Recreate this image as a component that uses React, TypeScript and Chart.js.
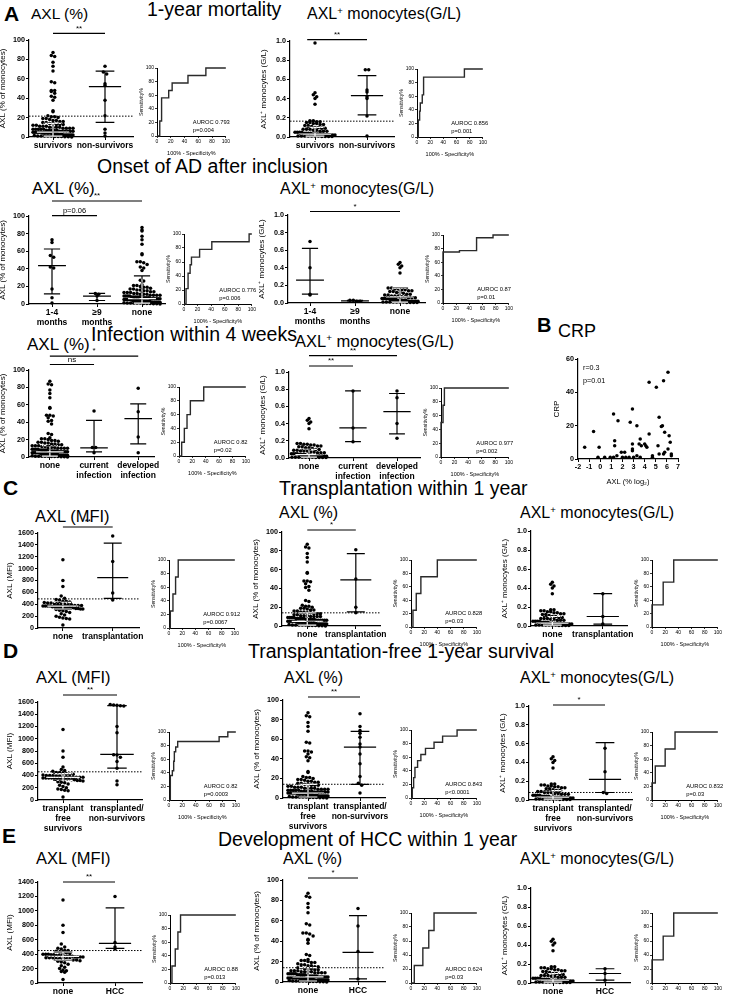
import React, { useEffect, useRef } from 'react';
import { Chart, registerables } from 'chart.js';
Chart.register(...registerables);

const FONT = "'Liberation Sans', Arial, Helvetica, sans-serif";
Chart.defaults.font.family = FONT;
Chart.defaults.color = '#000';

// ================= DATA =================
// dense cohort groups (patients without the event)
const cohortAxlPct = [87, 84, 83, 77, 73, 68, 57, 56, 48, 48, 47, 45, 42, 41, 38, 27, 26, 22, 21, 21, 20, 19, 19, 18, 17, 17, 16, 16, 15, 15, 14, 14, 13, 13, 13, 12, 12, 11, 11, 11, 10, 10, 10, 10, 9, 9, 9, 9, 8, 8, 8, 8, 8, 7, 7, 7, 7, 7, 6, 6, 6, 6, 6, 6, 5, 5, 5, 5, 5, 5, 4, 4, 4, 4, 4, 4, 3, 3, 3, 3, 3, 3, 3, 2, 2, 2, 2, 2, 2, 2, 1.5, 1, 1, 1, 1, 1, 0.5, 0.5, 0.5, 0.3, 0.2, 0.1];
const cohortAxlMono = [0.46, 0.44, 0.42, 0.40, 0.34, 0.17, 0.17, 0.16, 0.16, 0.15, 0.15, 0.14, 0.14, 0.13, 0.13, 0.12, 0.12, 0.11, 0.10, 0.10, 0.09, 0.09, 0.08, 0.08, 0.08, 0.07, 0.07, 0.06, 0.06, 0.06, 0.05, 0.05, 0.05, 0.05, 0.04, 0.04, 0.04, 0.04, 0.03, 0.03, 0.03, 0.03, 0.03, 0.02, 0.02, 0.02, 0.02, 0.02, 0.02, 0.01, 0.01, 0.01, 0.01, 0.01, 0.01, 0.01, 0.005, 0.005, 0.005, 0.005];
const cohortAxlMfi = [1150, 800, 700, 540, 500, 480, 470, 450, 450, 440, 430, 420, 420, 410, 400, 400, 400, 390, 390, 380, 380, 380, 370, 370, 370, 370, 360, 360, 360, 360, 350, 350, 350, 340, 340, 340, 330, 330, 320, 320, 310, 300, 290, 280, 260, 240, 220, 200, 180, 170, 160, 150, 50];

// A: 1-year mortality
const mortCats = ['survivors', 'non-survivors'];
const mortPctNonSurv = [73, 67, 65, 55, 53, 38, 22, 8, 4, 1];
const mortPctMid = [5, 52];
const mortPctLo = [1, 15];
const mortPctHi = [14, 68];
const mortMonoSurv = [0.98, ...cohortAxlMono];
const mortMonoNonSurv = [0.70, 0.70, 0.49, 0.47, 0.42, 0.40, 0.22, 0.01];
const mortMonoMid = [0.03, 0.43];
const mortMonoLo = [0.01, 0.23];
const mortMonoHi = [0.10, 0.64];
const rocMortPctFpr = [0, 4, 4, 6, 6, 7, 7, 17, 17, 22, 22, 45, 45, 71, 71, 100];
const rocMortPctTpr = [0, 0, 22, 22, 33, 33, 56, 56, 67, 67, 78, 78, 89, 89, 100, 100];
const rocMortMonoFpr = [0, 2, 2, 4, 4, 5, 5, 8, 8, 10, 10, 72, 72, 100];
const rocMortMonoTpr = [0, 0, 25, 25, 38, 38, 50, 50, 62, 62, 88, 88, 100, 100];

// A: onset of AD
const onsetCats = [['1-4', 'months'], ['≥9', 'months'], 'none'];
const onsetPctEarly = [73, 70, 55, 53, 42, 41, 17, 7, 1];
const onsetPctLate = [12, 11, 9, 4];
const onsetPctMid = [43.5, 9, 6];
const onsetPctLo = [11.4, 4, 1];
const onsetPctHi = [62.5, 12, 32];
const onsetMonoEarly = [0.70, 0.40, 0.10, 0.09];
const onsetMonoLate = [0.03, 0.03, 0.02, 0.02];
const onsetMonoMid = [0.26, 0.025, 0.07];
const onsetMonoLo = [0.10, 0.02, 0.01];
const onsetMonoHi = [0.62, 0.03, 0.17];
const rocOnsetPctFpr = [0, 3, 3, 6, 6, 9, 9, 11, 11, 23, 23, 41, 41, 96, 96, 100];
const rocOnsetPctTpr = [0, 0, 22, 22, 44, 44, 56, 56, 67, 67, 78, 78, 89, 89, 100, 100];
const rocOnsetMonoFpr = [0, 0, 25, 25, 51, 51, 76, 76, 100];
const rocOnsetMonoTpr = [0, 75, 75, 77, 77, 96, 96, 100, 100];

// A: infection within 4 weeks
const infCats = ['none', ['current', 'infection'], ['developed', 'infection']];
const infPctCurrent = [53, 11, 11, 5];
const infPctDeveloped = [79, 52, 23, 5];
const infPctMid = [6, 10.5, 44];
const infPctLo = [1, 6, 15];
const infPctHi = [13, 42, 61];
const infMonoCurrent = [0.78, 0.35, 0.19];
const infMonoDeveloped = [0.78, 0.70, 0.40, 0.23];
const infMonoMid = [0.04, 0.35, 0.54];
const infMonoLo = [0.01, 0.19, 0.28];
const infMonoHi = [0.10, 0.78, 0.75];
const rocInfPctFpr = [0, 4, 4, 8, 8, 12, 12, 17, 17, 37, 37, 100];
const rocInfPctTpr = [0, 0, 20, 20, 40, 40, 60, 60, 80, 80, 100, 100];
const rocInfMonoFpr = [0, 0, 3, 3, 5, 5, 100];
const rocInfMonoTpr = [0, 50, 50, 75, 75, 100, 100];

// B: CRP vs AXL
const crpAxlLog2 = [-1.4, -0.6, -0.1, -0.2, 0.4, 0.9, 1.2, 1.3, 1.3, 1.6, 1.5, 1.2, 1.9, 2.2, 2.0, 2.3, 2.6, 2.7, 2.9, 2.9, 2.9, 2.9, 3.3, 3.3, 3.6, 3.5, 3.7, 4.0, 4.1, 4.2, 4.4, 4.7, 4.7, 5.2, 5.3, 5.3, 5.5, 5.6, 5.8, 5.8, 5.7, 6.2, 6.1, 6.3, 6.4, 6.4, 3.6, 3.0, 6.1, 5.7, 4.4, 5.05];
const crpValues = [7, 16.5, 7, 1, 1, 1, 27, 11, 8, 23, 2, 1, 4, 4, 1, 1, 1, 22, 30, 9, 6, 5, 20, 2, 12, 9, 8, 9, 8, 7, 15, 2, 1, 8, 3, 25, 19.5, 20, 16, 4, 3, 14, 6, 10, 3, 2, 1, 1, 52, 47, 46, 43];

// C: transplantation within 1 year
const txCats = ['none', 'transplantation'];
const txMfi = [1550, 1120, 590, 470];
const txMfiMid = [370, 850];
const txMfiLo = [320, 500];
const txMfiHi = [430, 1430];
const txPct = [81, 50, 20, 14];
const txPctMid = [5, 49];
const txPctLo = [1, 15];
const txPctHi = [14, 77];
const txMono = [0.34, 0.10, 0.02];
const txMonoMid = [0.03, 0.10];
const txMonoLo = [0.01, 0.02];
const txMonoHi = [0.10, 0.34];
const rocTxMfiFpr = [0, 2, 2, 6, 6, 10, 10, 14, 14, 100];
const rocTxMfiTpr = [0, 0, 25, 25, 50, 50, 75, 75, 100, 100];
const rocTxPctFpr = [0, 3, 3, 8, 8, 15, 15, 40, 40, 100];
const rocTxPctTpr = [0, 0, 25, 25, 50, 50, 75, 75, 100, 100];
const rocTxMonoFpr = [0, 0, 17, 17, 33, 33, 100];
const rocTxMonoTpr = [0, 33, 33, 67, 67, 100, 100];

// D: transplantation-free 1-year survival
const tfsCats = [['transplant', 'free', 'survivors'], ['transplanted/', 'non-survivors']];
const tfsMfi = [1560, 1550, 1545, 1540, 1535, 1200, 1100, 740, 735, 700, 630, 520, 310, 250];
const tfsMfiMid = [370, 745];
const tfsMfiLo = [320, 520];
const tfsMfiHi = [430, 1540];
const tfsPct = [86, 73, 69, 66, 62, 55, 52, 45, 35, 22, 15, 13, 5];
const tfsPctMid = [5, 52];
const tfsPctLo = [1, 14];
const tfsPctHi = [14, 68];
const tfsMono = [0.55, 0.30, 0.08, 0.07];
const tfsMonoMid = [0.03, 0.22];
const tfsMonoLo = [0.01, 0.08];
const tfsMonoHi = [0.10, 0.61];
const rocTfsMfiFpr = [0, 2, 2, 5, 5, 7, 7, 8, 8, 10, 10, 13, 13, 75, 75, 88, 88, 100];
const rocTfsMfiTpr = [0, 0, 36, 36, 43, 43, 57, 57, 71, 71, 78, 78, 86, 86, 93, 93, 100, 100];
const rocTfsPctFpr = [0, 2, 2, 4, 4, 6, 6, 10, 10, 15, 15, 22, 22, 35, 35, 48, 48, 70, 70, 100];
const rocTfsPctTpr = [0, 0, 15, 15, 30, 30, 45, 45, 55, 55, 64, 64, 73, 73, 82, 82, 91, 91, 100, 100];
const rocTfsMonoFpr = [0, 0, 5, 5, 20, 20, 35, 35, 100];
const rocTfsMonoTpr = [0, 25, 25, 50, 50, 75, 75, 100, 100];

// E: development of HCC within 1 year
const hccCats = ['none', 'HCC'];
const hccMfi = [1200, 560, 500, 470];
const hccMfiMid = [370, 550];
const hccMfiLo = [320, 480];
const hccMfiHi = [430, 1040];
const hccPct = [72, 55, 30, 3];
const hccPctMid = [5, 29];
const hccPctLo = [1, 3];
const hccPctHi = [14, 65];
const hccMono = [0.15, 0.10, 0.03];
const hccMonoMid = [0.03, 0.10];
const hccMonoLo = [0.01, 0.03];
const hccMonoHi = [0.10, 0.15];
const rocHccMfiFpr = [0, 3, 3, 8, 8, 12, 12, 16, 16, 100];
const rocHccMfiTpr = [0, 0, 25, 25, 50, 50, 75, 75, 100, 100];
const rocHccPctFpr = [0, 5, 5, 18, 18, 27, 27, 35, 35, 100];
const rocHccPctTpr = [0, 0, 25, 25, 50, 50, 75, 75, 100, 100];
const rocHccMonoFpr = [0, 0, 17, 17, 33, 33, 100];
const rocHccMonoTpr = [0, 33, 33, 67, 67, 100, 100];

// ================= LAYOUT / BUILDERS =================
const Y_PCT = 'AXL (% of monocytes)';
const Y_MONO = 'AXL\u207A monocytes (G/L)';
const Y_MFI = 'AXL (MFI)';

type Sig = { a: number; b: number; dy: number; text: string };
type Box = { id: string; left: number; top: number; width: number; height: number; make: () => any };

function swarm(values: number[], pxPerUnit: number, dotD: number, maxW: number): number[] {
  const bins: Record<string, number[]> = {};
  values.forEach((v, i) => {
    const k = String(Math.round((v * pxPerUnit) / dotD));
    (bins[k] = bins[k] || []).push(i);
  });
  const off = values.map(() => 0);
  Object.keys(bins).forEach((k) => {
    const idx = bins[k];
    const n = idx.length;
    const sp = n > 1 ? Math.min(dotD, maxW / (n - 1)) : 0;
    idx.forEach((id, j) => {
      off[id] = (j - (n - 1) / 2) * sp;
    });
  });
  return off;
}

function axisCommon() {
  return {
    grid: { display: true, drawOnChartArea: false, drawTicks: true, tickLength: 3, color: '#000', lineWidth: 1 },
    border: { display: true, color: '#000', width: 1.2 },
  };
}

function dotBox(s: any): Box {
  const padL = s.padL ?? 31;
  const T = 30, B = 36, R = 6;
  const n = s.catPx.length;
  const spacing = (s.catPx[n - 1] - s.catPx[0]) / Math.max(1, n - 1);
  const xMin = -(s.catPx[0] - s.l) / spacing;
  const xMax = n - 1 + (s.r - s.catPx[n - 1]) / spacing;
  const pxPerUnit = (s.b - s.t) / s.yMax;
  const width = padL + (s.r - s.l) + R;
  const height = T + (s.b - s.t) + B;
  const make = () => {
    const datasets = s.groups.map((g: number[], gi: number) => {
      const offs = swarm(g, pxPerUnit, 3.4, Math.min(40, spacing * 0.8));
      return {
        data: g.map((v: number, k: number) => ({ x: gi + offs[k] / spacing, y: v })),
        pointRadius: 1.75,
        pointBackgroundColor: '#000',
        pointBorderWidth: 0,
        showLine: false,
        clip: false,
      };
    });
    const deco = {
      id: 'deco',
      afterDatasetsDraw(chart: any) {
        const { ctx, chartArea, scales } = chart;
        const x = scales.x, y = scales.y;
        ctx.save();
        if (s.cutoff != null) {
          const yy = y.getPixelForValue(s.cutoff);
          ctx.setLineDash([1.5, 1.5]);
          ctx.strokeStyle = '#000';
          ctx.lineWidth = 1;
          ctx.beginPath();
          ctx.moveTo(chartArea.left, yy);
          ctx.lineTo(chartArea.right, yy);
          ctx.stroke();
          ctx.setLineDash([]);
        }
        s.groups.forEach((g: number[], i: number) => {
          const cx = x.getPixelForValue(i);
          const hw = spacing * 0.31, cw = spacing * 0.18;
          const ym = y.getPixelForValue(s.mid[i]);
          const yl = y.getPixelForValue(s.lo[i]);
          const yh = y.getPixelForValue(s.hi[i]);
          const path = () => {
            ctx.beginPath();
            ctx.moveTo(cx - hw, ym); ctx.lineTo(cx + hw, ym);
            ctx.moveTo(cx, yl); ctx.lineTo(cx, yh);
            ctx.moveTo(cx - cw, yl); ctx.lineTo(cx + cw, yl);
            ctx.moveTo(cx - cw, yh); ctx.lineTo(cx + cw, yh);
          };
          ctx.lineWidth = 1.2;
          if (g.length > 20) {
            ctx.globalCompositeOperation = 'source-atop';
            ctx.strokeStyle = '#fff';
            path(); ctx.stroke();
            ctx.globalCompositeOperation = 'destination-over';
            ctx.strokeStyle = '#000';
            path(); ctx.stroke();
            ctx.globalCompositeOperation = 'source-over';
          } else {
            ctx.strokeStyle = '#000';
            path(); ctx.stroke();
          }
        });
        (s.sig || []).forEach((g: Sig) => {
          const x1 = x.getPixelForValue(g.a), x2 = x.getPixelForValue(g.b);
          const yy = chartArea.top - g.dy;
          ctx.strokeStyle = '#000';
          ctx.lineWidth = 1.2;
          ctx.beginPath(); ctx.moveTo(x1, yy); ctx.lineTo(x2, yy); ctx.stroke();
          ctx.fillStyle = '#000';
          ctx.font = (g.text.length > 2 ? '7.5px ' : '8px ') + FONT;
          ctx.textAlign = 'center';
          ctx.textBaseline = 'bottom';
          ctx.fillText(g.text, (x1 + x2) / 2, yy - 1);
        });
        ctx.restore();
      },
    };
    return {
      type: 'scatter',
      data: { datasets },
      plugins: [deco],
      options: {
        responsive: false,
        animation: false,
        devicePixelRatio: 1,
        layout: { padding: { top: T, right: R, left: 0, bottom: 0 } },
        plugins: { legend: { display: false }, tooltip: { enabled: false } },
        scales: {
          x: {
            type: 'linear', min: xMin, max: xMax,
            afterBuildTicks: (sc: any) => { sc.ticks = s.cats.map((_: any, i: number) => ({ value: i })); },
            afterFit: (sc: any) => { sc.height = B; },
            ticks: {
              autoSkip: false, maxRotation: 0, minRotation: 0, padding: 1,
              font: { size: 8.5, weight: 'bold', lineHeight: 1.15 }, color: '#000',
              callback: (v: number) => s.cats[Math.round(v)],
            },
            ...axisCommon(),
          },
          y: {
            type: 'linear', min: 0, max: s.yMax,
            afterFit: (sc: any) => { sc.width = padL; },
            ticks: {
              stepSize: s.yStep, padding: 1, color: '#000',
              font: { size: 7.2, weight: 'bold' },
              callback: (v: number) => Number(v).toFixed(s.yDec),
            },
            title: { display: true, text: s.yTitle, font: { size: 8 }, padding: { top: 0, bottom: 0 }, color: '#000' },
            ...axisCommon(),
          },
        },
      },
    };
  };
  return { id: s.id, left: s.l - padL, top: s.t - T, width, height, make };
}

function rocBox(s: any): Box {
  const padL = 19, T = 4, B = 21, R = 5;
  const width = padL + (s.r - s.l) + R;
  const height = T + (s.b - s.t) + B;
  const make = () => {
    const txt = {
      id: 'roctxt',
      afterDatasetsDraw(chart: any) {
        if (!s.auroc) return;
        const { ctx, scales } = chart;
        ctx.save();
        ctx.fillStyle = '#000';
        ctx.font = '5.8px ' + FONT;
        ctx.textAlign = 'left';
        ctx.textBaseline = 'middle';
        const x0 = scales.x.getPixelForValue(52);
        ctx.fillText(s.auroc, x0, scales.y.getPixelForValue(20));
        ctx.fillText(s.p, x0, scales.y.getPixelForValue(8));
        ctx.restore();
      },
    };
    const tick = { size: 5, weight: 'normal' };
    return {
      type: 'scatter',
      data: {
        datasets: [{
          data: s.fpr.map((f: number, i: number) => ({ x: f, y: s.tpr[i] })),
          showLine: true, borderColor: '#2a2a2a', borderWidth: 1.4, pointRadius: 0, clip: false,
        }],
      },
      plugins: [txt],
      options: {
        responsive: false, animation: false, devicePixelRatio: 1,
        layout: { padding: { top: T, right: R, left: 0, bottom: 0 } },
        plugins: { legend: { display: false }, tooltip: { enabled: false } },
        scales: {
          x: {
            type: 'linear', min: 0, max: 100,
            afterFit: (sc: any) => { sc.height = B; },
            ticks: { stepSize: 20, padding: 1, font: tick, color: '#000', maxRotation: 0 },
            title: { display: true, text: '100% - Specificity%', font: { size: 5.5 }, padding: { top: 2, bottom: 0 }, color: '#000' },
            grid: { display: true, drawOnChartArea: false, drawTicks: true, tickLength: 2, color: '#000', lineWidth: 0.8 },
            border: { display: true, color: '#000', width: 1 },
          },
          y: {
            type: 'linear', min: 0, max: 100,
            afterFit: (sc: any) => { sc.width = padL; },
            ticks: { stepSize: 20, padding: 1, font: tick, color: '#000' },
            title: { display: true, text: 'Sensitivity%', font: { size: 5.2 }, padding: { top: 0, bottom: 0 }, color: '#000' },
            grid: { display: true, drawOnChartArea: false, drawTicks: true, tickLength: 2, color: '#000', lineWidth: 0.8 },
            border: { display: true, color: '#000', width: 1 },
          },
        },
      },
    };
  };
  return { id: s.id, left: s.l - padL, top: s.t - T, width, height, make };
}

function crpBox(): Box {
  const l = 578.3, r = 678.3, t = 359, b = 459.3;
  const padL = 26, T = 6, B = 27, R = 8;
  const width = padL + (r - l) + R;
  const height = T + (b - t) + B;
  const make = () => {
    const txt = {
      id: 'crptxt',
      afterDatasetsDraw(chart: any) {
        const { ctx, scales } = chart;
        ctx.save();
        ctx.fillStyle = '#000';
        ctx.font = '7.2px ' + FONT;
        ctx.textAlign = 'left';
        ctx.textBaseline = 'middle';
        const x0 = scales.x.getPixelForValue(-1.55);
        ctx.fillText('r=0.3', x0, scales.y.getPixelForValue(54.4));
        ctx.fillText('p=0.01', x0, scales.y.getPixelForValue(47));
        ctx.restore();
      },
    };
    return {
      type: 'scatter',
      data: {
        datasets: [{
          data: crpAxlLog2.map((v, i) => ({ x: v, y: crpValues[i] })),
          pointRadius: 1.75, pointBackgroundColor: '#000', pointBorderWidth: 0, clip: false,
        }],
      },
      plugins: [txt],
      options: {
        responsive: false, animation: false, devicePixelRatio: 1,
        layout: { padding: { top: T, right: R, left: 0, bottom: 0 } },
        plugins: { legend: { display: false }, tooltip: { enabled: false } },
        scales: {
          x: {
            type: 'linear', min: -2, max: 7,
            afterFit: (sc: any) => { sc.height = B; },
            ticks: { stepSize: 1, padding: 1, font: { size: 7.2, weight: 'bold' }, color: '#000', maxRotation: 0 },
            title: { display: true, text: 'AXL (% log\u2082)', font: { size: 7.5 }, padding: { top: 3, bottom: 0 }, color: '#000' },
            ...axisCommon(),
          },
          y: {
            type: 'linear', min: 0, max: 60,
            afterFit: (sc: any) => { sc.width = padL; },
            ticks: { stepSize: 20, padding: 1, font: { size: 7.2, weight: 'bold' }, color: '#000' },
            title: { display: true, text: 'CRP', font: { size: 8 }, padding: { top: 0, bottom: 0 }, color: '#000' },
            ...axisCommon(),
          },
        },
      },
    };
  };
  return { id: 'crp', left: l - padL, top: t - T, width, height, make };
}

const PCT = { yMax: 100, yStep: 20, yDec: 0, yTitle: Y_PCT };
const MONO = { yMax: 1, yStep: 0.2, yDec: 1, yTitle: Y_MONO };
const MFI16 = { yMax: 1600, yStep: 200, yDec: 0, yTitle: Y_MFI, padL: 33 };
const MFI14 = { yMax: 1400, yStep: 200, yDec: 0, yTitle: Y_MFI, padL: 33 };

const boxes: Box[] = [
  // Row A: mortality
  dotBox({ id: 'a1', l: 29, t: 40, r: 133, b: 137, cats: mortCats, catPx: [53, 105], groups: [cohortAxlPct, mortPctNonSurv], mid: mortPctMid, lo: mortPctLo, hi: mortPctHi, cutoff: 21.5, sig: [{ a: 0, b: 1, dy: 6.7, text: '**' }], ...PCT }),
  rocBox({ id: 'ra1', l: 156.7, r: 226, t: 67.7, b: 136, fpr: rocMortPctFpr, tpr: rocMortPctTpr, auroc: 'AUROC 0.793', p: 'p=0.004' }),
  dotBox({ id: 'a2', l: 290, t: 41.3, r: 394, b: 137, cats: mortCats, catPx: [315, 367], groups: [mortMonoSurv, mortMonoNonSurv], mid: mortMonoMid, lo: mortMonoLo, hi: mortMonoHi, cutoff: 0.165, sig: [{ a: -0.15, b: 1, dy: 1.3, text: '**' }], ...MONO }),
  rocBox({ id: 'ra2', l: 416.7, r: 483, t: 69.3, b: 137, fpr: rocMortMonoFpr, tpr: rocMortMonoTpr, auroc: 'AUROC 0.856', p: 'p=0.001' }),
  // Row A: onset of AD
  dotBox({ id: 'a3', l: 29, t: 216, r: 165, b: 304, cats: onsetCats, catPx: [52, 97, 142], groups: [onsetPctEarly, onsetPctLate, cohortAxlPct], mid: onsetPctMid, lo: onsetPctLo, hi: onsetPctHi, sig: [{ a: 0, b: 2, dy: 15, text: '**' }, { a: 0, b: 1, dy: 0.3, text: 'p=0.06' }], ...PCT }),
  rocBox({ id: 'ra3', l: 184.3, r: 252.3, t: 234.3, b: 304, fpr: rocOnsetPctFpr, tpr: rocOnsetPctTpr, auroc: 'AUROC 0.776', p: 'p=0.006' }),
  dotBox({ id: 'a4', l: 288, t: 215, r: 425, b: 303, cats: onsetCats, catPx: [310, 353, 400], groups: [onsetMonoEarly, onsetMonoLate, cohortAxlMono], mid: onsetMonoMid, lo: onsetMonoLo, hi: onsetMonoHi, sig: [{ a: 0, b: 2, dy: 3.5, text: '*' }], ...MONO }),
  rocBox({ id: 'ra4', l: 442.7, r: 509, t: 235, b: 302.7, fpr: rocOnsetMonoFpr, tpr: rocOnsetMonoTpr, auroc: 'AUROC 0.87', p: 'p=0.01' }),
  // Row A: infection
  dotBox({ id: 'a5', l: 29, t: 369.5, r: 155, b: 456, cats: infCats, catPx: [50, 95, 139], groups: [cohortAxlPct, infPctCurrent, infPctDeveloped], mid: infPctMid, lo: infPctLo, hi: infPctHi, sig: [{ a: 0, b: 2, dy: 13.8, text: '*' }, { a: 0, b: 1, dy: 5.5, text: 'ns' }], ...PCT }),
  rocBox({ id: 'ra5', l: 179.3, r: 246.7, t: 387.3, b: 456, fpr: rocInfPctFpr, tpr: rocInfPctTpr, auroc: 'AUROC 0.82', p: 'p=0.02' }),
  dotBox({ id: 'a6', l: 289, t: 372, r: 420, b: 458, cats: infCats, catPx: [309, 353, 397], groups: [cohortAxlMono, infMonoCurrent, infMonoDeveloped], mid: infMonoMid, lo: infMonoLo, hi: infMonoHi, sig: [{ a: 0, b: 2, dy: 16.3, text: '**' }, { a: 0, b: 1, dy: 6, text: '**' }], ...MONO }),
  rocBox({ id: 'ra6', l: 440.7, r: 509, t: 387.7, b: 456.7, fpr: rocInfMonoFpr, tpr: rocInfMonoTpr, auroc: 'AUROC 0.977', p: 'p=0.002' }),
  crpBox(),
  // Row C
  dotBox({ id: 'c1', l: 38, t: 533, r: 140, b: 627.7, cats: txCats, catPx: [63, 113], groups: [cohortAxlMfi, txMfi], mid: txMfiMid, lo: txMfiLo, hi: txMfiHi, cutoff: 490, sig: [{ a: 0, b: 1, dy: 6, text: '**' }], ...MFI16 }),
  rocBox({ id: 'rc1', l: 169.3, r: 235.3, t: 560, b: 627.7, fpr: rocTxMfiFpr, tpr: rocTxMfiTpr, auroc: 'AUROC 0.912', p: 'p=0.0067' }),
  dotBox({ id: 'c2', l: 282, t: 532, r: 383, b: 626, cats: txCats, catPx: [308, 358], groups: [cohortAxlPct, txPct], mid: txPctMid, lo: txPctLo, hi: txPctHi, cutoff: 14, sig: [{ a: 0, b: 1, dy: 2, text: '*' }], ...PCT }),
  rocBox({ id: 'rc2', l: 411, r: 477, t: 560, b: 627, fpr: rocTxPctFpr, tpr: rocTxPctTpr, auroc: 'AUROC 0.828', p: 'p=0.03' }),
  dotBox({ id: 'c3', l: 531, t: 531, r: 630, b: 626, cats: txCats, catPx: [553, 605], groups: [cohortAxlMono, txMono], mid: txMonoMid, lo: txMonoLo, hi: txMonoHi, ...MONO }),
  rocBox({ id: 'rc3', l: 652, r: 718, t: 560, b: 627, fpr: rocTxMonoFpr, tpr: rocTxMonoTpr }),
  // Row D
  dotBox({ id: 'd1', l: 38, t: 702, r: 142, b: 800, cats: tfsCats, catPx: [63, 117], groups: [cohortAxlMfi, tfsMfi], mid: tfsMfiMid, lo: tfsMfiLo, hi: tfsMfiHi, cutoff: 460, sig: [{ a: 0, b: 1, dy: 7, text: '**' }], ...MFI16 }),
  rocBox({ id: 'rd1', l: 169.3, r: 236, t: 732, b: 800, fpr: rocTfsMfiFpr, tpr: rocTfsMfiTpr, auroc: 'AUROC 0.82', p: 'p=0.0003' }),
  dotBox({ id: 'd2', l: 283, t: 700, r: 385, b: 798, cats: tfsCats, catPx: [308, 360], groups: [cohortAxlPct, tfsPct], mid: tfsPctMid, lo: tfsPctLo, hi: tfsPctHi, cutoff: 14, sig: [{ a: 0, b: 1, dy: 3, text: '**' }], ...PCT }),
  rocBox({ id: 'rd2', l: 411, r: 477, t: 730, b: 798, fpr: rocTfsPctFpr, tpr: rocTfsPctTpr, auroc: 'AUROC 0.843', p: 'p<0.0001' }),
  dotBox({ id: 'd3', l: 529, t: 706, r: 632, b: 800, cats: tfsCats, catPx: [553, 605], groups: [cohortAxlMono, tfsMono], mid: tfsMonoMid, lo: tfsMonoLo, hi: tfsMonoHi, cutoff: 0.08, sig: [{ a: 0, b: 1, dy: 1, text: '*' }], ...MONO }),
  rocBox({ id: 'rd3', l: 652, r: 718, t: 732, b: 800, fpr: rocTfsMonoFpr, tpr: rocTfsMonoTpr, auroc: 'AUROC 0.832', p: 'p=0.03' }),
  // Row E
  dotBox({ id: 'e1', l: 38, t: 882, r: 142, b: 983, cats: hccCats, catPx: [63, 115], groups: [cohortAxlMfi, hccMfi], mid: hccMfiMid, lo: hccMfiLo, hi: hccMfiHi, cutoff: 450, sig: [{ a: 0, b: 1, dy: 0, text: '**' }], ...MFI14 }),
  rocBox({ id: 're1', l: 170, r: 236, t: 915, b: 983, fpr: rocHccMfiFpr, tpr: rocHccMfiTpr, auroc: 'AUROC 0.88', p: 'p=0.013' }),
  dotBox({ id: 'e2', l: 283, t: 880, r: 385, b: 982, cats: hccCats, catPx: [308, 358], groups: [cohortAxlPct, hccPct], mid: hccPctMid, lo: hccPctLo, hi: hccPctHi, cutoff: 14, sig: [{ a: 0, b: 1, dy: 2, text: '*' }], ...PCT }),
  rocBox({ id: 're2', l: 411, r: 477, t: 913, b: 983, fpr: rocHccPctFpr, tpr: rocHccPctTpr, auroc: 'AUROC 0.624', p: 'p=0.03' }),
  dotBox({ id: 'e3', l: 531, t: 888, r: 630, b: 983, cats: hccCats, catPx: [553, 605], groups: [cohortAxlMono, hccMono], mid: hccMonoMid, lo: hccMonoLo, hi: hccMonoHi, ...MONO }),
  rocBox({ id: 're3', l: 652, r: 718, t: 913, b: 983, fpr: rocHccMonoFpr, tpr: rocHccMonoTpr }),
];

// ================= TEXT =================
const MONO_T = 'mono';
type TextItem = [number, number, number, boolean, string];
const texts: TextItem[] = [
  [4, 6, 21, true, 'A'],
  [31, 8, 15.5, false, 'AXL (%)'],
  [147, 3, 19.5, false, '1-year mortality'],
  [307, 8, 16, false, MONO_T],
  [97, 160, 19.5, false, 'Onset of AD after inclusion'],
  [32, 182, 17, false, 'AXL (%)'],
  [280, 183, 16, false, MONO_T],
  [91, 328, 19.5, false, 'Infection within 4 weeks'],
  [27, 338, 17, false, 'AXL (%)'],
  [295, 335, 16.5, false, MONO_T],
  [537, 318, 20, true, 'B'],
  [558, 324, 18, false, 'CRP'],
  [3, 480, 21, true, 'C'],
  [279, 482, 19.5, false, 'Transplantation within 1 year'],
  [35, 510, 16.5, false, 'AXL (MFI)'],
  [279, 507, 16, false, 'AXL (%)'],
  [520, 507, 16, false, MONO_T],
  [3, 643, 21, true, 'D'],
  [248, 645, 19.5, false, 'Transplantation-free 1-year survival'],
  [36, 671, 16.5, false, 'AXL (MFI)'],
  [284, 672, 16, false, 'AXL (%)'],
  [520, 672, 16, false, MONO_T],
  [2, 828, 21, true, 'E'],
  [218, 833, 19.5, false, 'Development of HCC within 1 year'],
  [36, 852, 16.5, false, 'AXL (MFI)'],
  [283, 853, 16, false, 'AXL (%)'],
  [520, 853, 16, false, MONO_T],
];

function ChartBox({ box }: { box: Box }) {
  const ref = useRef<HTMLCanvasElement | null>(null);
  useEffect(() => {
    const chart = new Chart(ref.current as HTMLCanvasElement, box.make());
    return () => chart.destroy();
  }, []);
  return (
    <canvas
      ref={ref}
      width={Math.round(box.width)}
      height={Math.round(box.height)}
      style={{ position: 'absolute', left: box.left, top: box.top, width: Math.round(box.width), height: Math.round(box.height) }}
    />
  );
}

function Label({ item }: { item: TextItem }) {
  const [x, capTop, size, bold, content] = item;
  return (
    <div
      style={{
        position: 'absolute', left: x, top: capTop - 0.13 * size, fontSize: size, lineHeight: 1,
        fontWeight: bold ? 'bold' : 'normal', fontFamily: FONT, whiteSpace: 'nowrap', color: '#000',
      }}
    >
      {content === MONO_T ? (
        <span>AXL<span style={{ fontSize: '0.6em', position: 'relative', top: '-0.55em' }}>+</span> monocytes(G/L)</span>
      ) : content}
    </div>
  );
}

export default function App() {
  return (
    <div style={{ position: 'absolute', left: 0, top: 0, width: 732, height: 994, background: '#fff', overflow: 'hidden' }}>
      {texts.map((t, i) => <Label key={i} item={t} />)}
      {boxes.map((b) => <ChartBox key={b.id} box={b} />)}
    </div>
  );
}
